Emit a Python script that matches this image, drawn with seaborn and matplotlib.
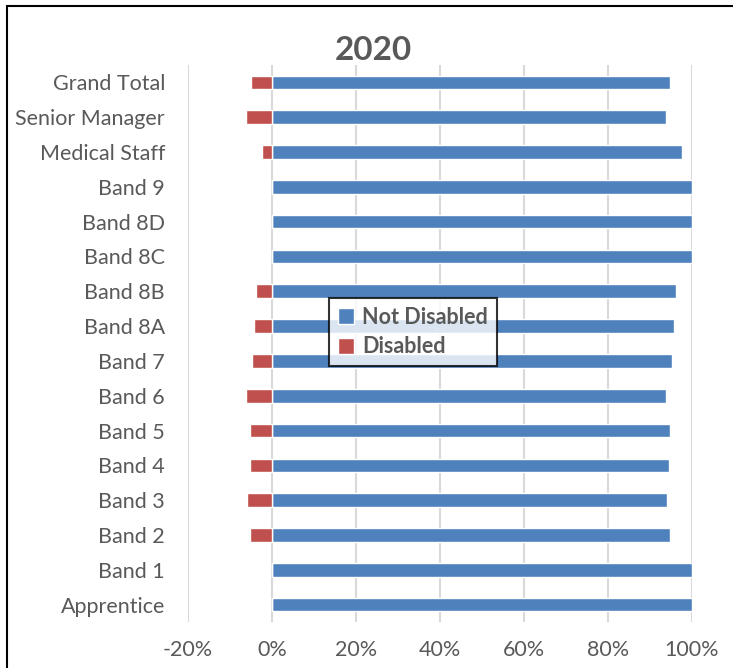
import matplotlib
matplotlib.use('Agg')
import matplotlib.pyplot as plt
import seaborn as sns
import pandas as pd
from matplotlib.patches import Rectangle, Patch
from matplotlib.ticker import PercentFormatter

# data (share of staff, %)
categories = ['Grand Total', 'Senior Manager', 'Medical Staff', 'Band 9', 'Band 8D',
              'Band 8C', 'Band 8B', 'Band 8A', 'Band 7', 'Band 6', 'Band 5',
              'Band 4', 'Band 3', 'Band 2', 'Band 1', 'Apprentice']
not_disabled = [94.8, 93.7, 97.5, 100, 100, 100, 96.2, 95.6, 95.3, 93.7, 94.8,
                94.6, 94.0, 94.8, 100, 100]
disabled = [5.1, 6.2, 2.5, 0, 0, 0, 3.7, 4.4, 4.7, 6.2, 5.2, 5.3, 5.9, 5.2, 0, 0]
x_ticks = [-20, 0, 20, 40, 60, 80, 100]

df = pd.DataFrame({'Category': categories,
                   'Not Disabled': not_disabled,
                   'Disabled': [-d for d in disabled]})

blue = '#4F81BD'
red = '#C0504D'
grey = '#595959'

sns.set_theme(style='white')
plt.rcParams['font.family'] = ['Lato', 'DejaVu Sans']
plt.rcParams['axes.unicode_minus'] = False

fig = plt.figure(figsize=(7.33, 6.68), dpi=100)
ax = fig.add_axes([188 / 733, 1 - 622 / 668, 504 / 733, 557 / 668])

sns.barplot(data=df, x='Not Disabled', y='Category', order=categories,
            color=blue, saturation=1, width=0.39, orient='h', ax=ax, zorder=3)
sns.barplot(data=df, x='Disabled', y='Category', order=categories,
            color=red, saturation=1, width=0.39, orient='h', ax=ax, zorder=3)

ax.set_xlim(-20, 100)
ax.set_ylim(len(categories) - 0.5, -0.5)
ax.set_xticks(x_ticks)
ax.xaxis.set_major_formatter(PercentFormatter(decimals=0))
ax.grid(axis='x', color='#d9d9d9', linewidth=1.5, zorder=0)
ax.set_axisbelow(True)
for spine in ax.spines.values():
    spine.set_visible(False)
ax.tick_params(axis='both', length=0, labelsize=15.5, colors=grey)
ax.tick_params(axis='y', pad=16.5)
ax.tick_params(axis='x', pad=13)
ax.set_xlabel('')
ax.set_ylabel('')

# title centred on the chart frame
fig.text(373 / 733, 1 - 50 / 668, '2020', ha='center', va='center',
         fontsize=24, fontweight='bold', color=grey)

# legend
handles = [Patch(facecolor=blue, label='Not Disabled'),
           Patch(facecolor=red, label='Disabled')]
leg = ax.legend(handles=handles, loc='upper left',
                bbox_to_anchor=((329 - 188) / 504, (622 - 298) / 557),
                frameon=True, fancybox=False, handlelength=0.75, handleheight=0.75,
                handletextpad=0.4, borderpad=0.4, labelspacing=0.4,
                borderaxespad=0, prop={'family': ['Lato', 'DejaVu Sans'],
                                       'weight': 'bold', 'size': 15.5})
leg.get_frame().set_edgecolor('black')
leg.get_frame().set_linewidth(1.5)
for t in leg.get_texts():
    t.set_color(grey)
    t.set_fontweight('bold')

# outer chart frame (left and top visible)
fig.patches.append(Rectangle((7 / 733, -0.1), 1.2, 1 - 6 / 668 + 0.1,
                             transform=fig.transFigure, fill=False,
                             edgecolor='black', linewidth=1.5, zorder=10))

fig.savefig('out.png', dpi=100)
